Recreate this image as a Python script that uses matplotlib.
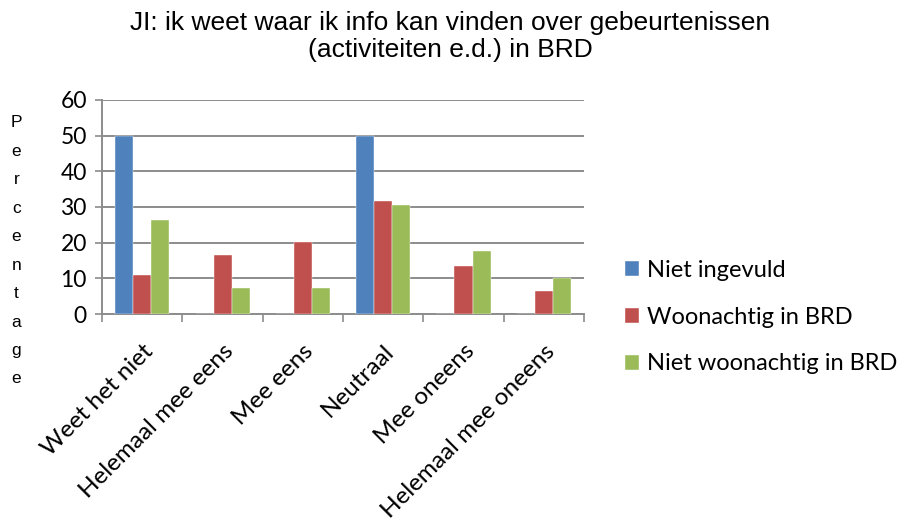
import numpy as np
import matplotlib.pyplot as plt
from matplotlib.transforms import ScaledTranslation

plt.rcParams['font.family'] = ['Lato', 'DejaVu Sans']

categories = ["Weet het niet", "Helemaal mee eens", "Mee eens", "Neutraal",
              "Mee oneens", "Helemaal mee oneens"]
niet_ingevuld = [50, 0, 0, 50, 0, 0]
woonachtig = [10.8, 16.6, 20.2, 31.8, 13.5, 6.5]
niet_woonachtig = [26.3, 7.3, 7.3, 30.6, 17.7, 10.0]

series = [("Niet ingevuld", niet_ingevuld, "#4f81bd"),
          ("Woonachtig in BRD", woonachtig, "#c0504d"),
          ("Niet woonachtig in BRD", niet_woonachtig, "#9bbb59")]

fig = plt.figure(figsize=(9.04, 5.26), dpi=100)
ax = fig.add_axes([0.113, 0.403, 0.533, 0.407])

x = np.arange(len(categories))
w = 0.225
for i, (name, vals, col) in enumerate(series):
    ax.bar(x + (i - 1) * w, vals, w, color=col, label=name, zorder=3,
           edgecolor='white', linewidth=0.3)

ax.set_xlim(-0.5, len(categories) - 0.5)
ax.set_ylim(0, 60)
ax.set_yticks(range(0, 61, 10))
ax.yaxis.grid(True, color='#8c8c8c', linewidth=1.4, zorder=0)
ax.set_xticks(x)
ax.set_xticklabels(categories, rotation=45, ha='right', rotation_mode='anchor',
                   fontsize=17.5)
# nudge the slanted labels a little to the left
shift = ScaledTranslation(-5 / 72, 0, fig.dpi_scale_trans)
for lbl in ax.get_xticklabels():
    lbl.set_transform(lbl.get_transform() + shift)
ax.set_xticks(np.arange(-0.5, len(categories)), minor=True)
ax.tick_params(axis='x', which='major', length=0, pad=19)
ax.tick_params(axis='x', which='minor', length=6, color='#8c8c8c', width=1.2)
ax.tick_params(axis='y', length=5, color='#8c8c8c', width=1.2, labelsize=16.5, pad=6)
for s in ['top', 'right']:
    ax.spines[s].set_visible(False)
for s in ['left', 'bottom']:
    ax.spines[s].set_color('#8c8c8c')
    ax.spines[s].set_linewidth(1.4)

fig.text(0.498, 0.93, "JI: ik weet waar ik info kan vinden over gebeurtenissen\n(activiteiten e.d.) in BRD",
         ha='center', va='center', fontsize=19, linespacing=1.15,
         family=['Liberation Sans'])
fig.text(0.018, 0.523, "\n".join("Percentage"), ha='center', va='center',
         fontsize=12.5, linespacing=2.12, family=['Liberation Sans'])

fig.legend(*ax.get_legend_handles_labels(), loc='center left',
           bbox_to_anchor=(625 / 904, 1 - 317 / 526), frameon=False,
           borderpad=0, borderaxespad=0,
           fontsize=17, handlelength=0.6, handleheight=0.6, labelspacing=1.1,
           handletextpad=0.35)

fig.savefig("out.png", dpi=100)
